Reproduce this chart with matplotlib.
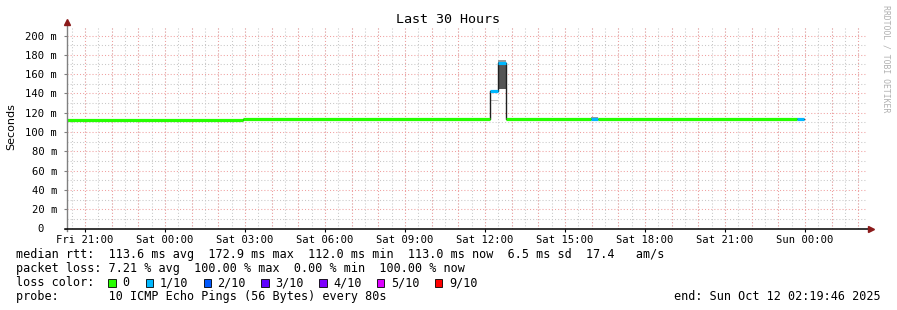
import pandas as pd
import matplotlib
matplotlib.use('Agg')
import matplotlib.pyplot as plt
from matplotlib.patches import Rectangle

# time window
t_start = pd.Timestamp('2025-10-10 20:19:46')
t_end = pd.Timestamp('2025-10-12 02:19:46')

# median rtt steps (ms) and loss (tenths) per step
seg_start = pd.to_datetime(['2025-10-10 20:19:46', '2025-10-11 02:56:00', '2025-10-11 12:11:00',
                            '2025-10-11 12:29:00', '2025-10-11 12:47:00', '2025-10-11 15:59:00',
                            '2025-10-11 16:15:00', '2025-10-11 23:42:00'])
seg_end = pd.to_datetime(['2025-10-11 02:56:00', '2025-10-11 12:11:00', '2025-10-11 12:29:00',
                          '2025-10-11 12:47:00', '2025-10-11 15:59:00', '2025-10-11 16:15:00',
                          '2025-10-11 23:42:00', '2025-10-11 23:58:00'])
median_ms = [112.1, 113.3, 142.3, 172.0, 113.3, 113.3, 113.3, 113.3]
loss_tenths = [0, 0, 1, 1, 0, 1, 0, 1]

# smoke bands: step index, low, high (ms)
smoke_seg = [2, 3, 3, 5, 7]
smoke_lo = [132.5, 144.8, 172.5, 113.3, 113.3]
smoke_hi = [133.6, 172.5, 175.0, 115.8, 114.6]
smoke_col = ['#c4c4c4', '#555555', '#9a9a9a', '#9a9a9a', '#9a9a9a']

loss_levels = [0, 1, 2, 3, 4, 5, 9]
loss_names = ['0', '1/10', '2/10', '3/10', '4/10', '5/10', '9/10']
loss_colors = ['#26ff00', '#00b8ff', '#0059ff', '#5e00ff', '#7e00ff', '#dd00ff', '#ff0000']

yticks = list(range(0, 201, 20))
ytick_labels = ['0  '] + ['%d m' % v for v in yticks[1:]]
xtick_times = pd.date_range('2025-10-10 21:00', '2025-10-12 00:00', freq='3h')
xtick_labels = ['Fri 21:00', 'Sat 00:00', 'Sat 03:00', 'Sat 06:00', 'Sat 09:00',
                'Sat 12:00', 'Sat 15:00', 'Sat 18:00', 'Sat 21:00', 'Sun 00:00']

stats_rtt = 'median rtt:  113.6 ms avg  172.9 ms max  112.0 ms min  113.0 ms now  6.5 ms sd  17.4   am/s'
stats_loss = 'packet loss: 7.21 % avg  100.00 % max  0.00 % min  100.00 % now'
probe_txt = 'probe:       10 ICMP Echo Pings (56 Bytes) every 80s'
end_txt = 'end: Sun Oct 12 02:19:46 2025'

W, H = 897, 310
MONO = 'DejaVu Sans Mono'
fig = plt.figure(figsize=(W / 100, H / 100), dpi=100)
fig.patch.set_facecolor('white')
ax = fig.add_axes([67 / W, (H - 228.5) / H, 800 / W, (228.5 - 25.9) / H])
ax.set_xlim(t_start, t_end)
ax.set_ylim(0, 210)
for s in ax.spines.values():
    s.set_visible(False)

# grid
dot = (0, (1, 2))
for t in pd.date_range('2025-10-10 20:30', t_end, freq='30min'):
    ax.axvline(t, color='#c8c8c8', lw=0.75, ls=dot, zorder=0)
for v in range(10, 210, 20):
    ax.axhline(v, color='#c8c8c8', lw=0.75, ls=dot, zorder=0)
for t in pd.date_range('2025-10-10 21:00', t_end, freq='1h'):
    ax.axvline(t, color='#f0a0a0', lw=0.75, ls=dot, zorder=0.5)
for v in range(20, 210, 20):
    ax.axhline(v, color='#f0a0a0', lw=0.75, ls=dot, zorder=0.5)

# smoke
for i, lo, hi, c in zip(smoke_seg, smoke_lo, smoke_hi, smoke_col):
    ax.fill_between([seg_start[i], seg_end[i]], lo, hi, color=c, lw=0, zorder=1)

# thin median connector
xs = list(seg_start) + [seg_end[-1]]
ys = median_ms + [median_ms[-1]]
ax.step(xs, ys, where='post', color='#202020', lw=1.0, zorder=2)

# coloured median by loss
for t0, t1, m, l in zip(seg_start, seg_end, median_ms, loss_tenths):
    c = loss_colors[loss_levels.index(l)]
    ax.plot([t0, t1], [m, m], color=c, lw=2.3, solid_capstyle='butt', zorder=3)

# axes lines and arrows
ax.plot([0, 0], [-0.012, 1.01], color='#808080', lw=1, transform=ax.transAxes, clip_on=False, zorder=5)
ax.plot([-0.002, 1.004], [0, 0], color='black', lw=1.1, transform=ax.transAxes, clip_on=False, zorder=5)
ax.plot(0, 1.02, marker='^', ms=5, color='#8b1a1a', transform=ax.transAxes, clip_on=False, zorder=6)
ax.plot(1.005, 0, marker='>', ms=5, color='#8b1a1a', transform=ax.transAxes, clip_on=False, zorder=6)

ax.set_yticks(yticks, ytick_labels, fontsize=7.6, family=MONO)
ax.set_xticks(xtick_times, xtick_labels, fontsize=7.6, family=MONO)
ax.tick_params(axis='y', length=2, width=0.8, color='#808080', pad=5)
ax.tick_params(axis='x', length=2, width=0.8, color='black', pad=3)

fig.text(448 / W, 1 - 19.5 / H, 'Last 30 Hours', ha='center', va='center', fontsize=9.6, family=MONO)
fig.text(11 / W, 1 - 127 / H, 'Seconds', rotation=90, ha='center', va='center', fontsize=8, family='DejaVu Sans')
fig.text(886 / W, 1 - 59 / H, 'RRDTOOL / TOBI OETIKER', rotation=270, ha='center', va='center',
         fontsize=5.9, family=MONO, color='#b0b0b0')

# legend block
fs = 8.5
fig.text(16 / W, 1 - 254.5 / H, stats_rtt, ha='left', va='center', fontsize=fs, family=MONO)
fig.text(16 / W, 1 - 268.5 / H, stats_loss, ha='left', va='center', fontsize=fs, family=MONO)
fig.text(16 / W, 1 - 282.5 / H, 'loss color:', ha='left', va='center', fontsize=fs, family=MONO)
fig.text(16 / W, 1 - 296.5 / H, probe_txt, ha='left', va='center', fontsize=fs, family=MONO)
fig.text(881 / W, 1 - 296.5 / H, end_txt, ha='right', va='center', fontsize=fs, family=MONO)

sq_x = [108.3, 145.7, 203.5, 261.3, 319.2, 377.0, 435.0]
for x, name, c in zip(sq_x, loss_names, loss_colors):
    fig.patches.append(Rectangle((x / W, 1 - 286.7 / H), 7.4 / W, 7.4 / H, transform=fig.transFigure,
                                 facecolor=c, edgecolor='black', lw=0.6))
    fig.text((x + 14) / W, 1 - 282.5 / H, name, ha='left', va='center', fontsize=fs, family=MONO)

fig.savefig('out.png', dpi=100, facecolor='white')
